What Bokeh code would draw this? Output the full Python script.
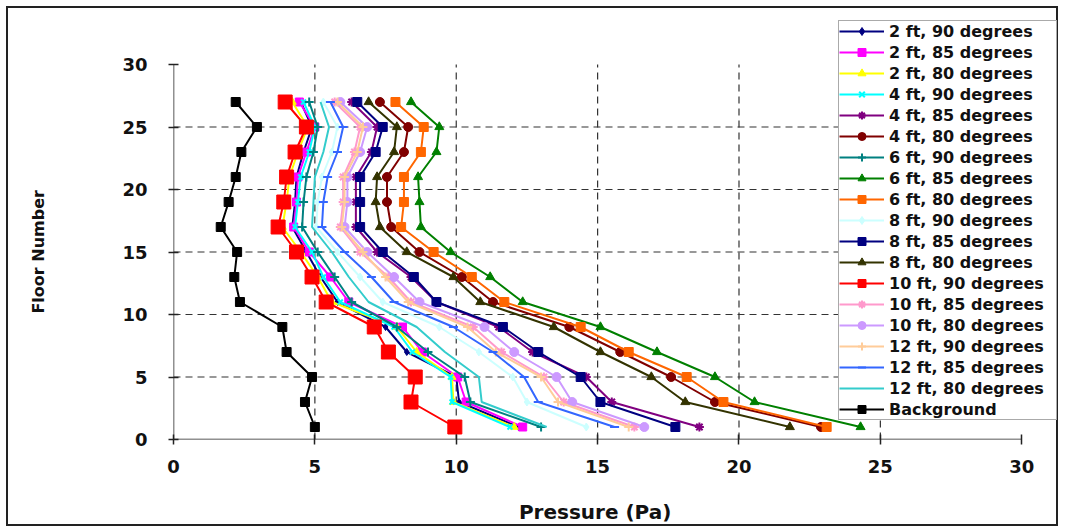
from bokeh.plotting import figure
from bokeh.models import Legend, LegendItem, FixedTicker
from bokeh.embed import file_html
from bokeh.resources import INLINE

floors = [27, 25, 23, 21, 19, 17, 15, 13, 11, 9, 7, 5, 3, 1]

ft2_90 = [4.5, 4.9, 4.6, 4.35, 4.3, 4.2, 4.7, 5.2, 5.8, 7.5, 8.25, 10.0, 10.1, 12.2]
ft2_85 = [4.45, 5.0, 4.7, 4.4, 4.35, 4.25, 4.8, 5.55, 6.2, 8.1, 8.8, 10.05, 10.35, 12.35]
ft2_80 = [4.2, 4.75, 4.4, 4.1, 4.0, 3.85, 4.5, 5.1, 5.6, 7.9, 8.6, 9.85, 9.9, 12.05]
ft4_90 = [4.6, 5.0, 4.8, 4.5, 4.4, 4.3, 4.9, 5.3, 5.9, 7.8, 8.45, 9.8, 9.85, 11.9]
ft4_85 = [6.3, 7.2, 7.0, 6.45, 6.45, 6.45, 7.2, 8.4, 9.3, 11.5, 12.7, 14.6, 15.5, 18.6]
ft4_80 = [7.3, 8.3, 8.15, 7.55, 7.55, 7.7, 8.7, 10.2, 11.3, 14.0, 15.8, 17.6, 19.15, 22.9]
ft6_90 = [4.8, 5.1, 4.95, 4.7, 4.6, 4.55, 5.1, 5.7, 6.3, 7.9, 9.0, 10.3, 10.5, 13.0]
ft6_85 = [8.4, 9.4, 9.3, 8.65, 8.7, 8.75, 9.8, 11.2, 12.35, 15.1, 17.1, 19.15, 20.55, 24.3]
ft6_80 = [7.85, 8.85, 8.75, 8.15, 8.15, 8.05, 9.2, 10.55, 11.7, 14.4, 16.1, 18.15, 19.45, 23.1]
ft8_90 = [5.3, 5.8, 5.6, 5.25, 5.1, 5.05, 5.8, 6.6, 7.4, 9.4, 10.8, 12.0, 12.5, 14.6]
ft8_85 = [6.5, 7.4, 7.15, 6.6, 6.6, 6.6, 7.4, 8.5, 9.3, 11.65, 12.9, 14.4, 15.1, 17.75]
ft8_80 = [6.9, 7.9, 7.8, 7.2, 7.15, 7.3, 8.25, 9.9, 10.85, 13.45, 15.1, 16.9, 18.1, 21.8]
ft10_90 = [3.95, 4.7, 4.3, 4.0, 3.9, 3.7, 4.35, 4.9, 5.4, 7.1, 7.6, 8.55, 8.4, 9.95]
ft10_85 = [5.7, 6.6, 6.4, 6.0, 6.0, 5.9, 6.6, 7.6, 8.4, 10.6, 11.6, 13.1, 13.8, 16.3]
ft10_80 = [5.9, 6.85, 6.6, 6.15, 6.15, 6.05, 6.85, 7.8, 8.7, 11.0, 12.05, 13.55, 14.1, 16.65]
ft12_90 = [5.8, 6.7, 6.5, 6.05, 6.05, 5.95, 6.7, 7.5, 8.3, 10.4, 11.4, 13.0, 13.6, 16.1]
ft12_85 = [5.55, 6.0, 5.8, 5.45, 5.3, 5.25, 6.05, 7.0, 7.8, 9.9, 11.3, 12.4, 12.9, 15.6]
ft12_80 = [5.2, 5.5, 5.3, 5.0, 4.95, 4.9, 5.6, 6.2, 6.9, 8.6, 9.6, 10.8, 10.9, 13.2]
background = [2.2, 2.95, 2.4, 2.2, 1.95, 1.67, 2.25, 2.15, 2.35, 3.85, 4.0, 4.9, 4.65, 5.0]

labels = ["2 ft, 90 degrees", "2 ft, 85 degrees", "2 ft, 80 degrees",
          "4 ft, 90 degrees", "4 ft, 85 degrees", "4 ft, 80 degrees",
          "6 ft, 90 degrees", "6 ft, 85 degrees", "6 ft, 80 degrees",
          "8 ft, 90 degrees", "8 ft, 85 degrees", "8 ft, 80 degrees",
          "10 ft, 90 degrees", "10 ft, 85 degrees", "10 ft, 80 degrees",
          "12 ft, 90 degrees", "12 ft, 85 degrees", "12 ft, 80 degrees",
          "Background"]
series = [ft2_90, ft2_85, ft2_80, ft4_90, ft4_85, ft4_80, ft6_90, ft6_85, ft6_80,
          ft8_90, ft8_85, ft8_80, ft10_90, ft10_85, ft10_80, ft12_90, ft12_85, ft12_80,
          background]
colors = ["#000080", "#FF00FF", "#FFFF00", "#00FFFF", "#800080", "#800000",
          "#008080", "#008000", "#FF6600", "#CCFFFF", "#000080", "#333300",
          "#FF0000", "#FF99CC", "#CC99FF", "#FFCC99", "#3366FF", "#33CCCC",
          "#000000"]
markers = ["diamond", "square", "triangle", "x", "asterisk", "circle",
           "cross", "triangle", "square", "diamond", "square", "triangle",
           "square", "asterisk", "circle", "cross", "dash", None, "square"]
msizes = [7, 8, 8, 7, 9, 9, 9, 9, 9, 8, 9, 9, 14, 9, 9, 9, 9, 0, 9]

axis_ticks = [0, 5, 10, 15, 20, 25, 30]
grid_ticks = [5, 10, 15, 20, 25]
AX_MIN, AX_MAX = 0, 30

p = figure(width=1052, height=520, x_range=(0, 31.3), y_range=(0, 34.48),
           output_backend="svg", toolbar_location=None,
           min_border_left=165, min_border_right=2, min_border_top=0,
           min_border_bottom=89)
p.styles = {"border": "2px solid #222222", "margin-left": "6px", "margin-top": "6px"}
p.outline_line_color = None
p.background_fill_color = "white"
p.xgrid.visible = False
p.ygrid.visible = False

font = "DejaVu Sans"
for ax in (p.xaxis[0], p.yaxis[0]):
    ax.ticker = FixedTicker(ticks=axis_ticks)
    ax.major_label_text_font = font
    ax.major_label_text_font_style = "bold"
    ax.major_label_text_font_size = "18px"
    ax.major_label_text_color = "#111111"
    ax.axis_label_text_font = font
    ax.axis_label_text_font_style = "bold"
    ax.axis_label_text_color = "#111111"
    ax.axis_line_color = None
    ax.major_tick_line_color = "#222222"
    ax.major_tick_line_width = 1.5
    ax.major_tick_in = 5
    ax.major_tick_out = 5
    ax.minor_tick_line_color = None

NB = "\u00a0"
p.xaxis.axis_label = "Pressure (Pa)" + NB * 6
p.xaxis.axis_label_text_font_size = "20px"
p.xaxis.major_label_standoff = 15
p.xaxis.axis_label_standoff = 24
p.yaxis.axis_label = "Floor Number" + NB * 10
p.yaxis.axis_label_text_font_size = "16px"
p.yaxis.major_label_standoff = 21
p.yaxis.axis_label_standoff = 71

# dashed grid (inside the 0-30 box only)
p.segment(x0=grid_ticks, y0=[AX_MIN] * len(grid_ticks), x1=grid_ticks,
          y1=[AX_MAX] * len(grid_ticks), line_color="#333333",
          line_dash="7 5", line_width=1.2)
p.segment(x0=[AX_MIN] * len(grid_ticks), y0=grid_ticks,
          x1=[AX_MAX] * len(grid_ticks), y1=grid_ticks, line_color="#333333",
          line_dash="7 5", line_width=1.2)
# axis lines
p.segment(x0=[AX_MIN, AX_MIN], y0=[AX_MIN, AX_MIN], x1=[AX_MAX, AX_MIN],
          y1=[AX_MIN, AX_MAX], line_color="#222222", line_width=1.5)

items = []
for lab, vals, col, mk, ms in zip(labels, series, colors, markers, msizes):
    r_line = p.line(vals, floors, line_color=col, line_width=2)
    rends = [r_line]
    if mk is not None:
        if mk in ("x", "asterisk", "cross", "dash"):
            r_m = p.scatter(vals, floors, marker=mk, size=ms, line_color=col,
                            line_width=2, fill_color=col)
        else:
            r_m = p.scatter(vals, floors, marker=mk, size=ms, line_color=col,
                            fill_color=col)
        rends.append(r_m)
    items.append(LegendItem(label=lab, renderers=rends))

legend = Legend(items=items, location=(665, 19))
legend.label_text_font = font
legend.label_text_font_style = "bold"
legend.label_text_font_size = "16px"
legend.label_text_color = "#111111"
legend.label_height = 20
legend.glyph_height = 20
legend.glyph_width = 45
legend.label_standoff = 5
legend.label_width = 167
legend.spacing = 1
legend.padding = 0
legend.margin = 0
legend.border_line_color = "#555555"
legend.border_line_width = 1.5
legend.background_fill_color = "white"
legend.background_fill_alpha = 1.0
p.add_layout(legend, "center")

open("out.html", "w").write(file_html(p, INLINE))
